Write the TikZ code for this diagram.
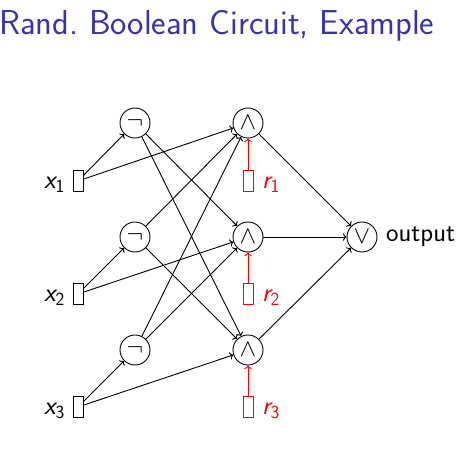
\documentclass[tikz,border=0pt]{standalone}
\usepackage{fontspec}
\usetikzlibrary{arrows.meta}
\definecolor{beamerblue}{RGB}{51,51,179}
\tikzset{
  gate/.style={draw, circle, minimum size=30pt, inner sep=0pt, line width=0.9pt, font=\fontsize{26.5}{32}\selectfont},
  inbox/.style={draw, rectangle, minimum width=10pt, minimum height=21pt, inner sep=0pt, line width=0.9pt},
  rbox/.style={inbox, draw=red},
  lbl/.style={inner sep=0pt, font=\fontsize{26.5}{32}\selectfont\sffamily},
  wire/.style={->, line width=0.9pt},
  rwire/.style={wire, draw=red},
}
\begin{document}
\begin{tikzpicture}[x=1pt, y=-1pt]
\useasboundingbox (0,0) rectangle (475,454);
\node[anchor=base west, inner sep=0pt, text=beamerblue, font=\fontsize{34.6}{42}\selectfont\sffamily] (title) at (-1,35) {Rand.\ Boolean Circuit, Example};

\node[inbox] (x1) at (78,181) {};
\node[inbox] (x2) at (78,294) {};
\node[inbox] (x3) at (78,407) {};
\node[lbl, anchor=base east] (lx1) at (65,189) {\slshape x${}_{\mathsf{1}}$};
\node[lbl, anchor=base east] (lx2) at (65,302) {\slshape x${}_{\mathsf{2}}$};
\node[lbl, anchor=base east] (lx3) at (65,415) {\slshape x${}_{\mathsf{3}}$};

\node[gate] (n1) at (135,123) {$\neg$};
\node[gate] (n2) at (135,237) {$\neg$};
\node[gate] (n3) at (135,350) {$\neg$};

\node[gate] (a1) at (248,123) {$\wedge$};
\node[gate] (a2) at (248,237) {$\wedge$};
\node[gate] (a3) at (248,350) {$\wedge$};

\node[rbox] (r1) at (248,181) {};
\node[rbox] (r2) at (248,294) {};
\node[rbox] (r3) at (248,407) {};
\node[lbl, anchor=base west, text=red] (lr1) at (262,189) {\slshape r${}_{\mathsf{1}}$};
\node[lbl, anchor=base west, text=red] (lr2) at (262,302) {\slshape r${}_{\mathsf{2}}$};
\node[lbl, anchor=base west, text=red] (lr3) at (262,415) {\slshape r${}_{\mathsf{3}}$};

\node[gate] (o) at (362,237) {$\vee$};
\node[lbl, anchor=base west] (out) at (386,242) {output};

\draw[wire] (x1) -- (n1);
\draw[wire] (x1) -- (a1);
\draw[wire] (x2) -- (n2);
\draw[wire] (x2) -- (a2);
\draw[wire] (x3) -- (n3);
\draw[wire] (x3) -- (a3);

\draw[wire] (n1) -- (a2);
\draw[wire] (n1) -- (a3);
\draw[wire] (n2) -- (a1);
\draw[wire] (n2) -- (a3);
\draw[wire] (n3) -- (a1);
\draw[wire] (n3) -- (a2);

\draw[rwire] (r1) -- (a1);
\draw[rwire] (r2) -- (a2);
\draw[rwire] (r3) -- (a3);

\draw[wire] (a1) -- (o);
\draw[wire] (a2) -- (o);
\draw[wire] (a3) -- (o);
\end{tikzpicture}
\end{document}
